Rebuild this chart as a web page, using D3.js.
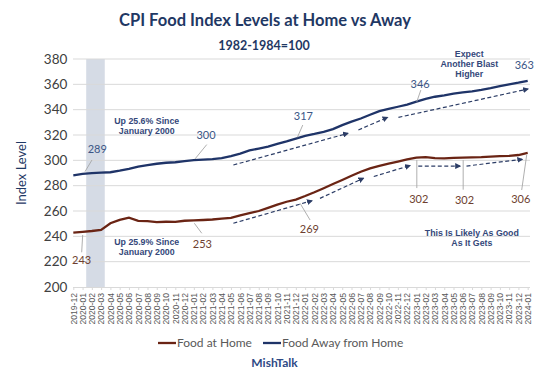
<!DOCTYPE html>
<html><head><meta charset="utf-8">
<script src="https://cdn.jsdelivr.net/npm/d3@7"></script>
<style>body{margin:0;background:#fff}svg{display:block}</style>
</head><body><svg id="c" width="540" height="379"></svg>
<script>
const months = ["2019-12","2020-01","2020-02","2020-03","2020-04","2020-05","2020-06","2020-07","2020-08","2020-09","2020-10","2020-11","2020-12",
"2021-01","2021-02","2021-03","2021-04","2021-05","2021-06","2021-07","2021-08","2021-09","2021-10","2021-11","2021-12",
"2022-01","2022-02","2022-03","2022-04","2022-05","2022-06","2022-07","2022-08","2022-09","2022-10","2022-11","2022-12",
"2023-01","2023-02","2023-03","2023-04","2023-05","2023-06","2023-07","2023-08","2023-09","2023-10","2023-11","2023-12","2024-01"];
const foodAtHome = [243.0,243.6,244.2,245.0,250.3,253.0,254.8,252.2,252.0,251.2,251.5,251.4,252.3,
252.6,252.9,253.3,253.9,254.6,256.5,258.3,260.0,262.5,265.0,267.3,269.0,
271.8,274.8,278.0,281.3,284.5,287.8,291.0,293.7,295.6,297.4,299.0,300.7,
302.1,302.6,301.8,301.6,301.9,302.1,302.4,302.6,303.0,303.4,303.5,304.2,305.8];
const foodAway = [288.1,289.3,289.9,290.3,290.6,291.8,293.3,295.0,296.2,297.3,298.1,298.5,299.4,
300.2,300.6,301.0,301.7,303.4,305.3,307.8,309.3,310.8,313.0,315.0,317.2,
319.3,320.8,322.5,324.6,327.8,330.5,333.0,336.0,338.8,340.6,342.3,344.0,
346.3,348.5,350.2,351.3,352.6,353.6,354.5,355.6,357.0,358.6,360.0,361.3,362.8];
const yTicks = [200,220,240,260,280,300,320,340,360,380];
const seriesNames = ["Food at Home","Food Away from Home"];
const recession = ["2020-02","2020-03"];
// point labels: series (0 home, 1 away), month, text
const pointLabels = [
  [1,"2020-01","289"],[1,"2021-01","300"],[1,"2021-12","317"],[1,"2023-01","346"],[1,"2024-01","363"],
  [0,"2020-01","243"],[0,"2021-01","253"],[0,"2021-12","269"],[0,"2023-01","302"],[0,"2023-06","302"],[0,"2024-01","306"]
];
// trend arrows in (month index, value)
const arrowsAway = [[[17.26,296.3],[29.6,321.3]],[[30.74,324],[33.87,333.9]],[[35.06,333.9],[49.02,356.3]]];
const arrowsHome = [[[17.26,250.3],[25.72,268.1]],[[26.6,270],[31.28,285.8]],[[32.4,287.2],[36.3,295.9]],[[37.2,295.5],[41.7,295.5]],[[42.4,295.5],[48.4,300.8]]];
const notes = [
  [["Up 25.6% Since","January 2000"],7.92,328.6],
  [["Up 25.9% Since","January 2000"],7.92,233.1],
  [["Expect","Another Blast","Higher"],42.7,381.9],
  [["This Is Likely As Good","As It Gets"],42.98,240.6]
];

const svg = d3.select("#c");
const L = 73.3, R = 527.7, T = 59, B = 287;
const x = d3.scalePoint().domain(months).range([L, R]);
const y = d3.scaleLinear().domain([200, 380]).range([B, T]);
const xi = i => x(months[0]) + i * x.step();
const navy = "#1f3864", brown = "#6a2414", blueLine = "#1f3468";

// recession band
svg.append("rect").attr("x", x(recession[0]) - x.step()/2 - 1).attr("y", y(380))
  .attr("width", x(recession[1]) - x(recession[0]) + x.step() ).attr("height", y(200) - y(380))
  .attr("fill", "#d5dbe5");

// gridlines
svg.append("g").selectAll("line").data(yTicks.slice(1)).join("line")
  .attr("x1", 73).attr("x2", 530).attr("y1", d => y(d)).attr("y2", d => y(d))
  .attr("stroke", "#d9d9d9").attr("stroke-width", 1);

// y axis
const ya = svg.append("g").attr("transform", `translate(${L},0)`)
  .call(d3.axisLeft(y).tickValues(yTicks).tickSize(0).tickPadding(6));
ya.select(".domain").remove();
ya.selectAll("text").attr("font-family", "Lato").attr("font-size", 13.5).attr("fill", "#404040");

// x axis
const xa = svg.append("g").attr("transform", `translate(0,${B})`)
  .call(d3.axisBottom(x).tickSize(3).tickPadding(4));
xa.select(".domain").attr("stroke", "#d9d9d9").attr("d", `M73,0.5H530`);
xa.selectAll(".tick line").attr("stroke", "#d9d9d9");
xa.selectAll("text").attr("font-family", "Liberation Sans, Arial").attr("font-size", 8.6).attr("fill", "#595959")
  .attr("text-anchor", "end").attr("transform", "rotate(-90)").attr("x", -6).attr("y", 0).attr("dy", "0.33em");

// lines
const line = d3.line().x((d, i) => x(months[i])).y(d => y(d));
svg.append("path").datum(foodAway).attr("d", line).attr("fill", "none").attr("stroke", blueLine).attr("stroke-width", 2.3);
svg.append("path").datum(foodAtHome).attr("d", line).attr("fill", "none").attr("stroke", brown).attr("stroke-width", 2.3);

// arrows
const defs = svg.append("defs");
defs.append("marker").attr("id", "ah").attr("viewBox", "0 0 10 10").attr("refX", 8).attr("refY", 5)
  .attr("markerWidth", 5).attr("markerHeight", 5).attr("orient", "auto")
  .append("path").attr("d", "M0,0L10,5L0,10z").attr("fill", "#2c3d66");
svg.append("g").selectAll("line").data(arrowsAway.concat(arrowsHome)).join("line")
  .attr("x1", d => xi(d[0][0])).attr("y1", d => y(d[0][1]))
  .attr("x2", d => xi(d[1][0])).attr("y2", d => y(d[1][1]))
  .attr("stroke", "#2c3d66").attr("stroke-width", 1.2).attr("stroke-dasharray", "4,2.5")
  .attr("marker-end", "url(#ah)");

// point labels with leaders
const lbl = {
  "1|2020-01": {t:[14.7,-24.6], l:[[2.4,-2.2],[9.4,-13.9]]},
  "1|2021-01": {t:[12.2,-24.5], l:[[1.2,-1.2],[12.9,-15.5]]},
  "1|2021-12": {t:[7.5,-22.5], l:[[1.5,-1.2],[6.9,-13.5]]},
  "1|2023-01": {t:[3.7,-17.6], l:[[0.4,0],[4.4,-11.6]]},
  "1|2024-01": {t:[-3.4,-15.7], l:null},
  "0|2020-01": {t:[-0.9,28.2], l:[[0.1,3.2],[-0.9,20.5]]},
  "0|2021-01": {t:[8.5,23.6], l:[[0.5,2.9],[7.9,12.9]]},
  "0|2021-12": {t:[13.5,29.7], l:[[4.2,3.7],[14.2,20.4]]},
  "0|2023-01": {t:[2.4,41.5], l:[[0.4,2.4],[0.4,30.4]]},
  "0|2023-06": {t:[1.7,42.9], l:[[0.4,2.4],[0.4,32]]},
  "0|2024-01": {t:[-7,46.3], l:[[-1,2],[-6,37]]}
};
pointLabels.forEach(([s, m, t]) => {
  const vals = s ? foodAway : foodAtHome;
  const px = x(m), py = y(vals[months.indexOf(m)]);
  const o = lbl[s + "|" + m];
  if (o.l) svg.append("line").attr("x1", px + o.l[0][0]).attr("y1", py + o.l[0][1])
    .attr("x2", px + o.l[1][0]).attr("y2", py + o.l[1][1]).attr("stroke", "#a6a6a6").attr("stroke-width", 0.9);
  svg.append("text").attr("x", px + o.t[0]).attr("y", py + o.t[1]).attr("dy", "0.35em")
    .attr("text-anchor", "middle").attr("font-family", "Lato").attr("font-size", 11)
    .attr("fill", s ? "#3b5686" : "#6e3f30").text(t);
});

// notes
notes.forEach(([lines, i, v]) => {
  const t = svg.append("text").attr("x", xi(i)).attr("y", y(v)).attr("text-anchor", "middle")
    .attr("font-family", "Liberation Sans, Arial").attr("font-weight", "bold").attr("font-size", 8.8).attr("fill", "#34487a");
  lines.forEach((s, k) => t.append("tspan").attr("x", xi(i)).attr("dy", k ? 10 : 0).text(s));
});

// titles
svg.append("text").attr("x", 265).attr("y", 26).attr("text-anchor", "middle").attr("font-family", "Lato")
  .attr("font-weight", "bold").attr("font-size", 16.5).attr("fill", navy).text("CPI Food Index Levels at Home vs Away");
svg.append("text").attr("x", 264).attr("y", 49.5).attr("text-anchor", "middle").attr("font-family", "Lato")
  .attr("font-weight", "bold").attr("font-size", 12.5).attr("fill", navy).text("1982-1984=100");
svg.append("text").attr("transform", `translate(26,${(T+B)/2}) rotate(-90)`).attr("text-anchor", "middle")
  .attr("font-family", "Lato").attr("font-size", 13).attr("fill", navy).text("Index Level");

// legend
const lg = [[158, brown, seriesNames[0]], [263, blueLine, seriesNames[1]]];
lg.forEach(([lx, c, n]) => {
  svg.append("line").attr("x1", lx).attr("x2", lx + 18).attr("y1", 343).attr("y2", 343).attr("stroke", c).attr("stroke-width", 2.3);
  svg.append("text").attr("x", lx + 19).attr("y", 343).attr("dy", "0.35em").attr("font-family", "Lato")
    .attr("font-size", 12).attr("fill", "#595959").text(n);
});
svg.append("text").attr("x", 274.5).attr("y", 363).attr("dy", "0.35em").attr("text-anchor", "middle")
  .attr("font-family", "Lato").attr("font-weight", "bold").attr("font-size", 12).attr("fill", "#2e4a85").text("MishTalk");
</script></body></html>
